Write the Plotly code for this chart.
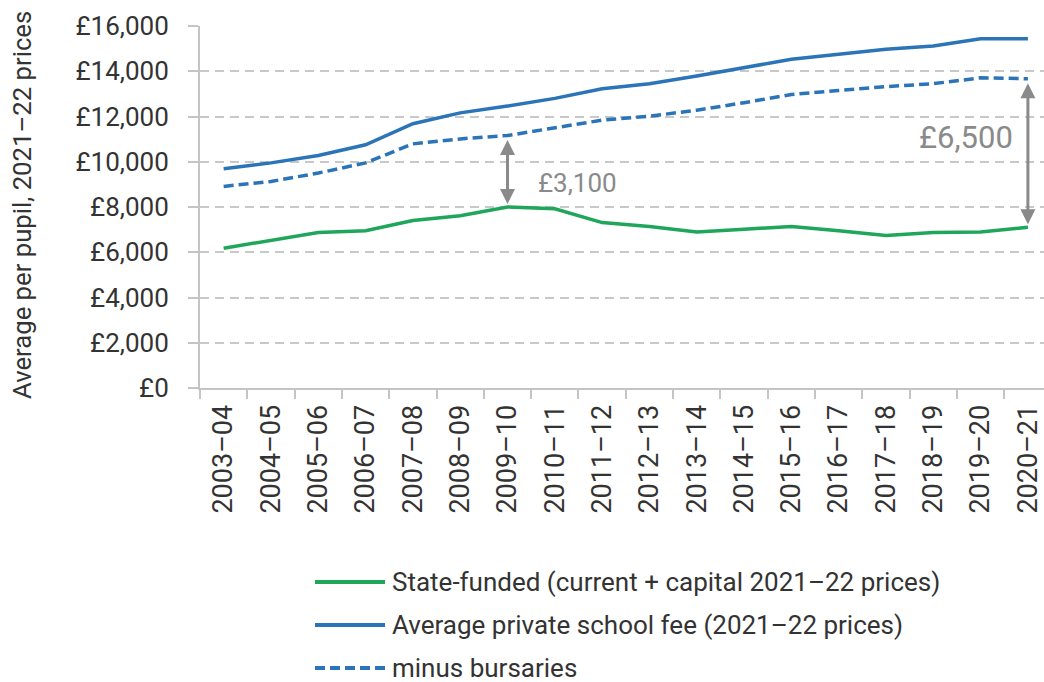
import plotly.graph_objects as go

years = ["2003–04", "2004–05", "2005–06", "2006–07", "2007–08", "2008–09", "2009–10",
         "2010–11", "2011–12", "2012–13", "2013–14", "2014–15", "2015–16", "2016–17",
         "2017–18", "2018–19", "2019–20", "2020–21"]
state_funded = [6180, 6520, 6870, 6950, 7400, 7610, 8000, 7920, 7310, 7140, 6890, 7020,
                7140, 6950, 6740, 6870, 6890, 7110]
private_fee = [9690, 9950, 10280, 10750, 11680, 12160, 12460, 12800, 13230, 13450, 13790,
               14160, 14530, 14750, 14970, 15120, 15440, 15440]
minus_bursaries = [8910, 9130, 9500, 9950, 10790, 11010, 11160, 11500, 11840, 12010, 12280,
                   12610, 12970, 13150, 13320, 13450, 13710, 13670]
series_names = ["State-funded (current + capital 2021–22 prices)",
                "Average private school fee (2021–22 prices)",
                "minus bursaries"]
y_ticks = [0, 2000, 4000, 6000, 8000, 10000, 12000, 14000, 16000]
y_tick_labels = ["£0", "£2,000", "£4,000", "£6,000", "£8,000", "£10,000", "£12,000",
                 "£14,000", "£16,000"]
gap_labels = ["£3,100", "£6,500"]
gap_years = ["2009–10", "2020–21"]

GREEN = "#1fa65a"
BLUE = "#2b74b8"
GREY = "#8a8a8a"
TEXT = "#333333"
FONT = "Roboto"
DASH = "10px,5px"

# plot-area geometry in pixels (used to place the hand-drawn legend)
W, H = 1044, 682
L, R, T, B = 200, 0, 26, 294
PW, PH = W - L - R, H - T - B


def px_x(p):
    return (p - L) / PW


def px_y(p):
    return (H - B - p) / PH


fig = go.Figure()
styles = [dict(color=GREEN, width=3.5), dict(color=BLUE, width=3.5),
          dict(color=BLUE, width=3.5, dash=DASH)]
for name, vals, st in zip(series_names, [state_funded, private_fee, minus_bursaries], styles):
    fig.add_trace(go.Scatter(x=years, y=vals, mode="lines", name=name, line=st,
                             showlegend=False))

# gap arrows
for yr in gap_years:
    i = years.index(yr)
    fig.add_annotation(x=yr, y=state_funded[i], ax=yr, ay=minus_bursaries[i],
                       xref="x", yref="y", axref="x", ayref="y", text="",
                       showarrow=True, arrowhead=2, arrowsize=1, arrowwidth=3,
                       arrowcolor=GREY, arrowside="end+start", startarrowhead=2,
                       startarrowsize=1, standoff=3, startstandoff=3)

i0 = years.index(gap_years[0])
fig.add_annotation(x=gap_years[0], y=(state_funded[i0] + minus_bursaries[i0]) / 2 - 500,
                   text=gap_labels[0], showarrow=False, xanchor="left", xshift=28,
                   font=dict(family=FONT, size=26, color=GREY))
i1 = years.index(gap_years[1])
fig.add_annotation(x=gap_years[1], y=(state_funded[i1] + minus_bursaries[i1]) / 2 + 700,
                   text=gap_labels[1], showarrow=False, xanchor="right", xshift=-13,
                   font=dict(family=FONT, size=31, color=GREY))

# y-axis title
fig.add_annotation(x=px_x(22), y=px_y(205), xref="paper", yref="paper",
                   text="Average per pupil, 2021–22 prices", textangle=-90,
                   showarrow=False, xanchor="center", yanchor="middle",
                   font=dict(family=FONT, size=25.7, color=TEXT))

# legend (drawn by hand so the key lines match the reference length)
rows = [582, 625, 668]
for name, st, row in zip(series_names, styles, rows):
    fig.add_shape(type="line", xref="paper", yref="paper",
                  x0=px_x(315), x1=px_x(385), y0=px_y(row), y1=px_y(row),
                  line=dict(color=st["color"], width=4, dash=st.get("dash", "solid")))
    fig.add_annotation(x=px_x(391), y=px_y(row), xref="paper", yref="paper", text=name,
                       showarrow=False, xanchor="left", yanchor="middle", borderpad=0,
                       font=dict(family=FONT, size=26, color=TEXT))

fig.update_layout(
    width=W, height=H,
    margin=dict(l=L, r=R, t=T, b=B),
    paper_bgcolor="white", plot_bgcolor="white",
    font=dict(family=FONT, color=TEXT, size=24),
    showlegend=False,
    xaxis=dict(type="category", range=[-0.5, 17.34], tickson="boundaries",
               tickangle=-90, showgrid=False, showline=True, linecolor="#c4c4c4",
               linewidth=2, ticks="outside", ticklen=9, tickwidth=2, tickcolor="#c4c4c4",
               tickfont=dict(family=FONT, size=27, color=TEXT), ticklabelstandoff=4,
               zeroline=False, automargin=False),
    yaxis=dict(range=[0, 16000], tickvals=y_ticks, ticktext=y_tick_labels,
               showgrid=True, gridcolor="#c8c8c8", gridwidth=2, griddash="9px,6px",
               showline=True, linecolor="#c4c4c4", linewidth=2, ticks="outside",
               ticklen=10, tickwidth=2, tickcolor="#c4c4c4",
               tickfont=dict(family=FONT, size=26, color=TEXT), ticklabelstandoff=14,
               zeroline=False, automargin=False),
)

fig.write_html("out.html", config={"displayModeBar": False},
               post_script="document.body.style.margin='0';document.body.style.overflow='hidden';")
